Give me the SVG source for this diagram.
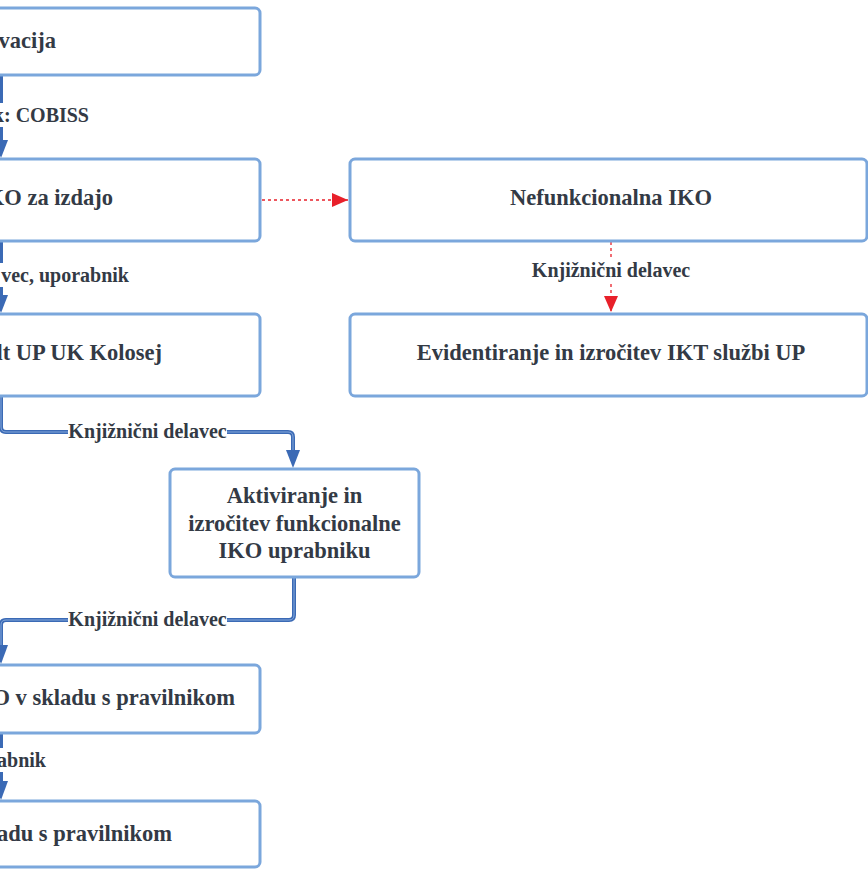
<svg xmlns="http://www.w3.org/2000/svg" width="868" height="869" viewBox="0 0 868 869" font-family="Liberation Serif" font-weight="bold">
<style>
.box{fill:#fff;stroke:#7ba7dc;stroke-width:3}
.t{font-family:'Liberation Serif',serif;font-weight:bold;font-size:22.5px;fill:#333a45}
.l{font-family:'Liberation Serif',serif;font-weight:bold;font-size:20px;fill:#333a45}
.bo{fill:none;stroke:#3b6ab5;stroke-width:4}
.bi{fill:none;stroke:#86a9dc;stroke-width:1}
.red{fill:none;stroke:#e8202a;stroke-width:1.3;stroke-dasharray:3,3}
.ah{fill:#3b6ab5}
</style>
<defs>
<marker id="ar" markerWidth="16" markerHeight="14" refX="16" refY="7" orient="auto" markerUnits="userSpaceOnUse" viewBox="0 0 16 14">
<path d="M0,0 L16,7 L0,14 Z" fill="#e8202a"/>
</marker>
</defs>
<g id="connectors">
<path class="bo" d="M1,76 V141"/>
<path class="ah" d="M-6,140 L8,140 L1,158 Z"/>
<path class="bo" d="M1,242 V296"/>
<path class="ah" d="M-6,295 L8,295 L1,313 Z"/>
<path class="bo" d="M1,397 V427 Q1,432 6,432 H288 Q293,432 293,437 V452"/>
<path class="bi" d="M1,397 V427 Q1,432 6,432 H288 Q293,432 293,437 V452"/>
<path class="ah" d="M286,450 L300,450 L293,468 Z"/>
<path class="bo" d="M294,578 V615 Q294,620 289,620 H6 Q1,620 1,625 V646"/>
<path class="bi" d="M294,578 V615 Q294,620 289,620 H6 Q1,620 1,625 V646"/>
<path class="ah" d="M-6,645 L8,645 L1,664 Z"/>
<path class="bo" d="M1,734 V782"/>
<path class="ah" d="M-6,781 L8,781 L1,800 Z"/>
<path class="red" d="M262,200 H348" marker-end="url(#ar)"/>
<path class="red" d="M611,242 V312" marker-end="url(#ar)"/>
<rect x="-10" y="103" width="102" height="24" fill="#fff"/>
<text class="l" x="89" y="122" text-anchor="end">k: COBISS</text>
<rect x="-10" y="263" width="142" height="24" fill="#fff"/>
<text class="l" x="129" y="282" text-anchor="end">vec, uporabnik</text>
<rect x="68" y="420" width="159" height="24" fill="#fff"/>
<text class="l" x="147.5" y="438" text-anchor="middle">Knjižnični delavec</text>
<rect x="68" y="608" width="159" height="24" fill="#fff"/>
<text class="l" x="147.5" y="626" text-anchor="middle">Knjižnični delavec</text>
<rect x="-10" y="748" width="58" height="24" fill="#fff"/>
<text class="l" x="46" y="767" text-anchor="end">abnik</text>
<rect x="530" y="258" width="162" height="24" fill="#fff"/>
<text class="l" x="611" y="277" text-anchor="middle">Knjižnični delavec</text>
</g>
<g id="n1"><rect class="box" x="-300" y="8" width="560" height="67" rx="5"/><text class="t" x="56" y="48" text-anchor="end">vacija</text></g>
<g id="n2"><rect class="box" x="-300" y="159" width="560" height="82" rx="5"/><text class="t" x="113" y="205" text-anchor="end">KO za izdajo</text></g>
<g id="n3"><rect class="box" x="-300" y="314" width="560" height="82" rx="5"/><text class="t" x="162" y="360" text-anchor="end">lt UP UK Kolosej</text></g>
<g id="n4"><rect class="box" x="170" y="469" width="249" height="108" rx="5"/>
<text class="t" x="294.5" y="503" text-anchor="middle">Aktiviranje in</text>
<text class="t" x="294.5" y="531" text-anchor="middle">izročitev funkcionalne</text>
<text class="t" x="294.5" y="558" text-anchor="middle">IKO uprabniku</text></g>
<g id="n5"><rect class="box" x="-300" y="665" width="560" height="68" rx="5"/><text class="t" x="235" y="705" text-anchor="end">O v skladu s pravilnikom</text></g>
<g id="n6"><rect class="box" x="-300" y="801" width="560" height="66" rx="5"/><text class="t" x="172" y="841" text-anchor="end">adu s pravilnikom</text></g>
<g id="n7"><rect class="box" x="350" y="159" width="517" height="82" rx="5"/><text class="t" x="611" y="205" text-anchor="middle">Nefunkcionalna IKO</text></g>
<g id="n8"><rect class="box" x="350" y="314" width="517" height="82" rx="5"/><text class="t" x="611" y="360" text-anchor="middle">Evidentiranje in izročitev IKT službi UP</text></g>
</svg>
